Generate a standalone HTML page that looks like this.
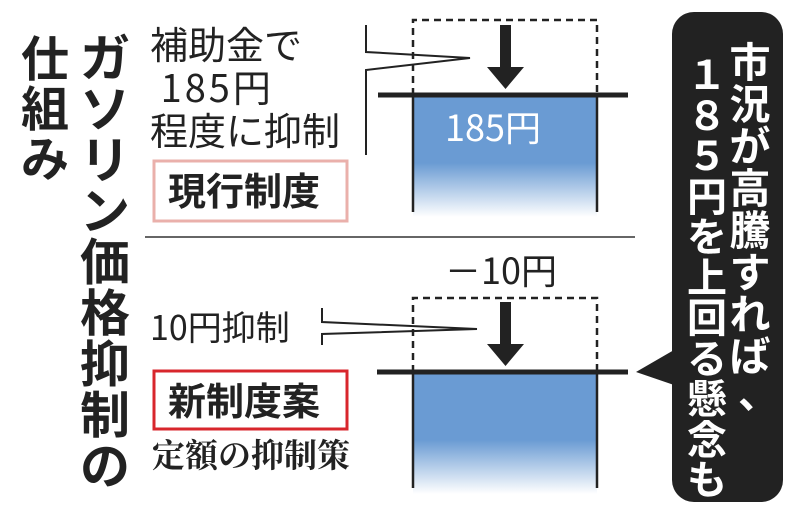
<!DOCTYPE html>
<html><head><meta charset="utf-8"><style>
body{margin:0;width:800px;height:521px;background:#fff;position:relative;overflow:hidden;font-family:"Noto Sans CJK JP",sans-serif;color:#222}
.a{position:absolute;white-space:nowrap;line-height:1}
.c{position:absolute;text-align:center;word-break:break-all;line-break:anywhere;white-space:normal}
</style></head><body>
<svg width="800" height="521" style="position:absolute;left:0;top:0">
<defs><linearGradient id="g" x1="0" y1="0" x2="0" y2="1"><stop offset="0.55" stop-color="#6a9bd3"/><stop offset="1" stop-color="#fff"/></linearGradient></defs>
<rect x="413" y="97" width="184" height="120" fill="url(#g)"/>
<rect x="413" y="374" width="184" height="120" fill="url(#g)"/>
<g stroke="#222" stroke-width="2.5" stroke-dasharray="7,5" fill="none">
<path d="M413 95V20H597V95"/><path d="M413 372V298H597V372"/></g>
<g stroke="#222" stroke-width="2.5"><line x1="413" y1="95" x2="413" y2="212"/><line x1="597" y1="95" x2="597" y2="212"/><line x1="413" y1="372" x2="413" y2="488"/><line x1="597" y1="372" x2="597" y2="488"/></g>
<line x1="378" y1="95" x2="628" y2="95" stroke="#222" stroke-width="5"/>
<line x1="377" y1="372" x2="628" y2="372" stroke="#222" stroke-width="5"/>
<path d="M500 25h11v42h13l-18.5 22l-18.5-22h13z" fill="#222"/>
<path d="M500 302h11v42h13l-18.5 22l-18.5-22h13z" fill="#222"/>
<g stroke="#222" stroke-width="2" fill="none">
<path d="M366 25V52L470 58L366 70V155"/>
<path d="M322 308V322L477 329L322 334V345"/></g>
<line x1="145" y1="237" x2="635" y2="237" stroke="#333" stroke-width="1.5"/>
<rect x="154" y="161" width="193" height="60" fill="none" stroke="#eab0ab" stroke-width="3"/>
<rect x="154" y="371" width="193" height="58" fill="none" stroke="#d8262c" stroke-width="3"/>
<rect x="672" y="12" width="111" height="490" rx="22" fill="#222"/>
<path d="M674 350L636 372L674 385z" fill="#222"/>
</svg>
<div class="c" style="left:20px;top:30px;width:50px;font-size:48px;line-height:50px;font-weight:bold">仕組み</div>
<div class="c" style="left:79px;top:30px;width:52px;font-size:50px;line-height:51px;font-weight:bold">ガソリン価格抑制の</div>
<div class="a" style="left:150px;top:24px;font-size:38px">補助金で</div>
<div class="a" style="left:150px;top:67px;font-size:38px;letter-spacing:3px">&#8201;185円</div>
<div class="a" style="left:150px;top:110px;font-size:38px">程度に抑制</div>
<div class="a" style="left:168px;top:170px;font-size:38px;font-weight:bold">現行制度</div>
<div class="a" style="left:445px;top:108px;font-size:36px;color:#fff">185円</div>
<div class="a" style="left:445px;top:251px;font-size:36px">－10円</div>
<div class="a" style="left:150px;top:309px;font-size:34px">10円抑制</div>
<div class="a" style="left:168px;top:380px;font-size:38px;font-weight:bold">新制度案</div>
<div class="a" style="left:152px;top:437px;font-size:33px;font-weight:bold;font-family:'Noto Serif CJK SC',serif">定額の抑制策</div>
<div class="c" style="left:728px;top:38px;width:44px;font-size:41px;line-height:42px;color:#fff;font-weight:bold">市況が高騰すれば</div>
<div class="a" style="left:738px;top:370px;font-size:41px;color:#fff;font-weight:bold">、</div>
<div class="c" style="left:686px;top:52px;width:42px;font-size:40px;line-height:40.5px;color:#fff;font-weight:bold">１８５円を上回る懸念も</div>
</body></html>
